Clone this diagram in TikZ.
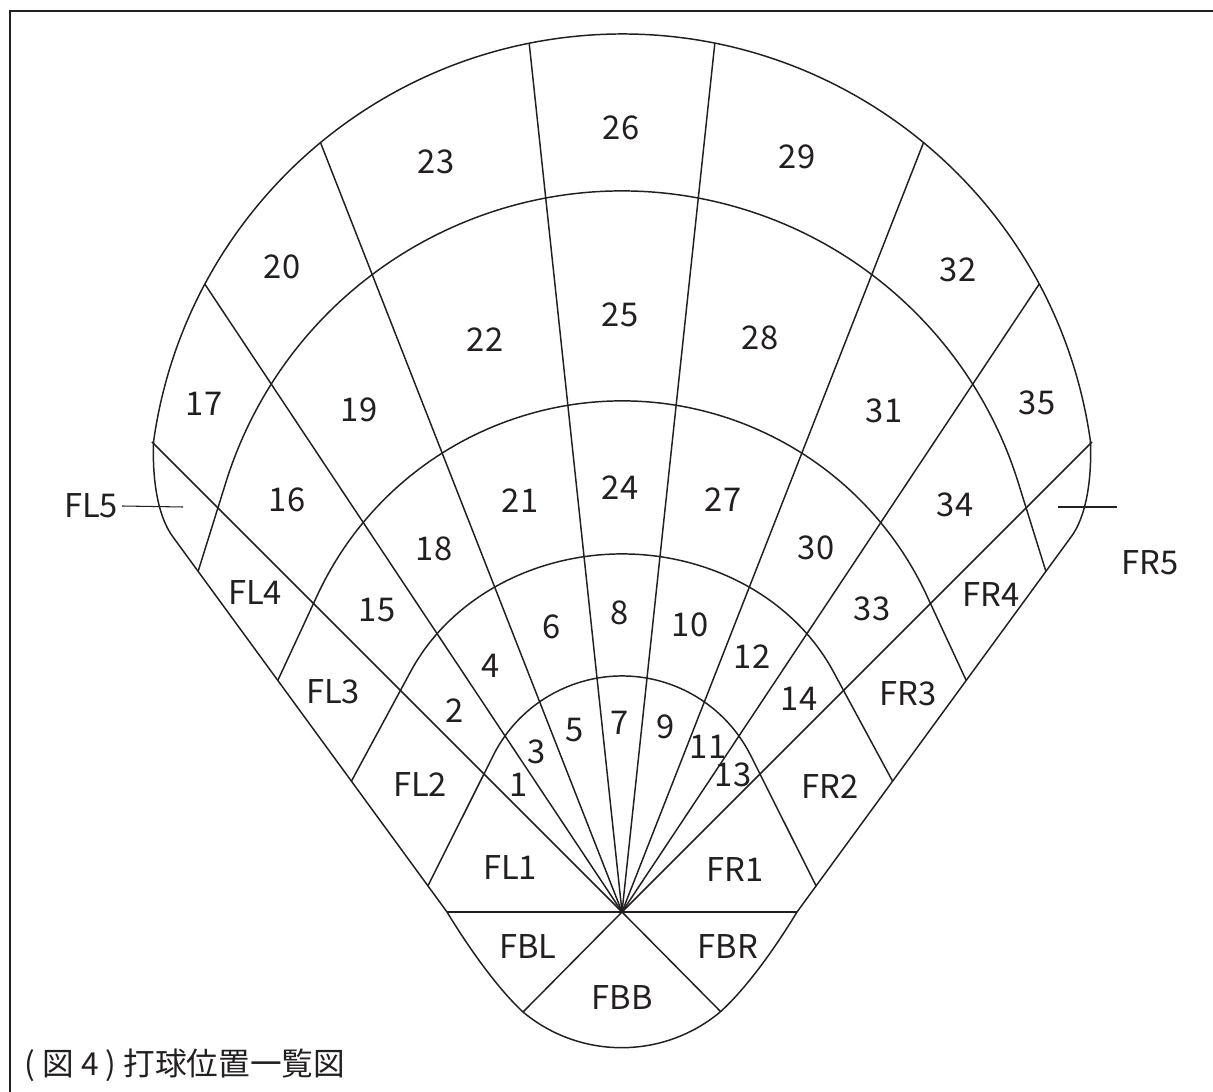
\documentclass[tikz,border=0pt]{standalone}
\usepackage{fontspec}
\setmainfont{Noto Sans CJK JP}
\usetikzlibrary{positioning}

\definecolor{ink}{RGB}{35,31,32}
\tikzset{
    zone/.style={font=\fontsize{9.3}{11}\selectfont, text=ink, inner sep=1pt},
    fieldline/.style={draw=ink, line width=0.42pt},
}
% outline of the whole field
\newcommand{\fieldoutline}{(523,1012) arc[start angle=129.8, end angle=50.2, radius=154]
    .. controls (750,985) and (780,940) .. (797,912) -- (1071,537)
    .. controls (1086,517) and (1092,480) .. (1090.4,441.2)
    arc[start angle=352, end angle=188, radius=473]
    .. controls (152,480) and (158,517) .. (173,537) -- (447,912)
    .. controls (464,940) and (494,985) .. (523,1012) -- cycle}

\begin{document}
\begin{tikzpicture}[x=0.01cm, y=-0.01cm]
    \useasboundingbox (0,0) rectangle (1213,1092);
    \draw[ink, line width=0.7pt] (10,1092) -- (10,11) -- (1213,11);
    \coordinate (hp) at (622,912);
    %Rays and arcs
    \begin{scope}[fieldline]
        \clip \fieldoutline;
        \draw (hp) -- ++(-123.6:1000);
        \draw (hp) -- ++(-111.4:1000);
        \draw (hp) -- ++(-96.1:1000);
        \draw (hp) -- ++(-83.9:1000);
        \draw (hp) -- ++(-68.6:1000);
        \draw (hp) -- ++(-56.4:1000);
        \draw (412.6,916.5) -- (493.2,755.5) arc[start angle=206.6, end angle=333.4, radius=144] -- (831.4,916.5);
        \draw (339.2,803.8) -- (410.6,671.6) arc[start angle=205.4, end angle=334.6, x radius=234, y radius=206] -- (904.8,803.8);
        \draw (262.5,713.4) -- (317.2,595.5) arc[start angle=204.9, end angle=335.1, radius=336] -- (981.5,713.4);
        \draw (187.1,606.7) -- (225.8,482.6) arc[start angle=197.3, end angle=342.7, radius=415] -- (1056.9,606.7);
        \draw (400,912) -- (850,912);
        \draw (hp) -- (523,1012);
        \draw (hp) -- (721,1012);
    \end{scope}
    \draw[fieldline] \fieldoutline;
    \draw[fieldline] (hp) -- (152,442);
    \draw[fieldline] (hp) -- (1092,442);
    %Labels
    \begin{scope}[every node/.style=zone]
        \node (n1) at (519,785) {1};
        \node (n2) at (455,711) {2};
        \node (n3) at (537,752) {3};
        \node (n4) at (491,666) {4};
        \node (n5) at (575,730) {5};
        \node (n6) at (552,627) {6};
        \node (n7) at (620,723) {7};
        \node (n8) at (620,613) {8};
        \node (n9) at (666,727) {9};
        \node (n10) at (690,625) {10};
        \node (n11) at (708,747) {11};
        \node (n12) at (752,657) {12};
        \node (n13) at (733,775) {13};
        \node (n14) at (799,699) {14};
        \node (n15) at (377,610) {15};
        \node (n16) at (287,500) {16};
        \node (n17) at (204,404) {17};
        \node (n18) at (434,549) {18};
        \node (n19) at (359,410) {19};
        \node (n20) at (282,267) {20};
        \node (n21) at (520,501) {21};
        \node (n22) at (485,340) {22};
        \node (n23) at (436,162) {23};
        \node (n24) at (620,488) {24};
        \node (n25) at (620,315) {25};
        \node (n26) at (621,128) {26};
        \node (n27) at (723,500) {27};
        \node (n28) at (760,338) {28};
        \node (n29) at (797,157) {29};
        \node (n30) at (816,548) {30};
        \node (n31) at (884,411) {31};
        \node (n32) at (958,270) {32};
        \node (n33) at (872,609) {33};
        \node (n34) at (955,505) {34};
        \node (n35) at (1037,403) {35};
        \node (fl1) at (510,868) {FL1};
        \node (fl2) at (420,785) {FL2};
        \node (fl3) at (333,692) {FL3};
        \node (fl4) at (255,593) {FL4};
        \node (fl5) at (91,506) {FL5};
        \node (fr1) at (735,870) {FR1};
        \node (fr2) at (830,787) {FR2};
        \node (fr3) at (908,694) {FR3};
        \node (fr4) at (991,595) {FR4};
        \node (fr5) at (1150,563) {FR5};
        \node (fbl) at (528,947) {FBL};
        \node (fbb) at (622,998) {FBB};
        \node (fbr) at (728,947) {FBR};
    \end{scope}
    %Ticks
    \coordinate (fl5tip) at (183,507);
    \coordinate (fr5a) at (1058,507);
    \coordinate (fr5b) at (1117,507);
    \draw[fieldline, line width=0.3pt] (fl5.east) -- (fl5tip);
    \draw[fieldline, line width=0.3pt] (fr5a) -- (fr5b);
    \node[anchor=base west, inner sep=0pt, font=\fontsize{9}{11}\selectfont, text=ink] (caption) at (24,1075) {( 図 4 ) 打球位置一覧図};
\end{tikzpicture}
\end{document}
